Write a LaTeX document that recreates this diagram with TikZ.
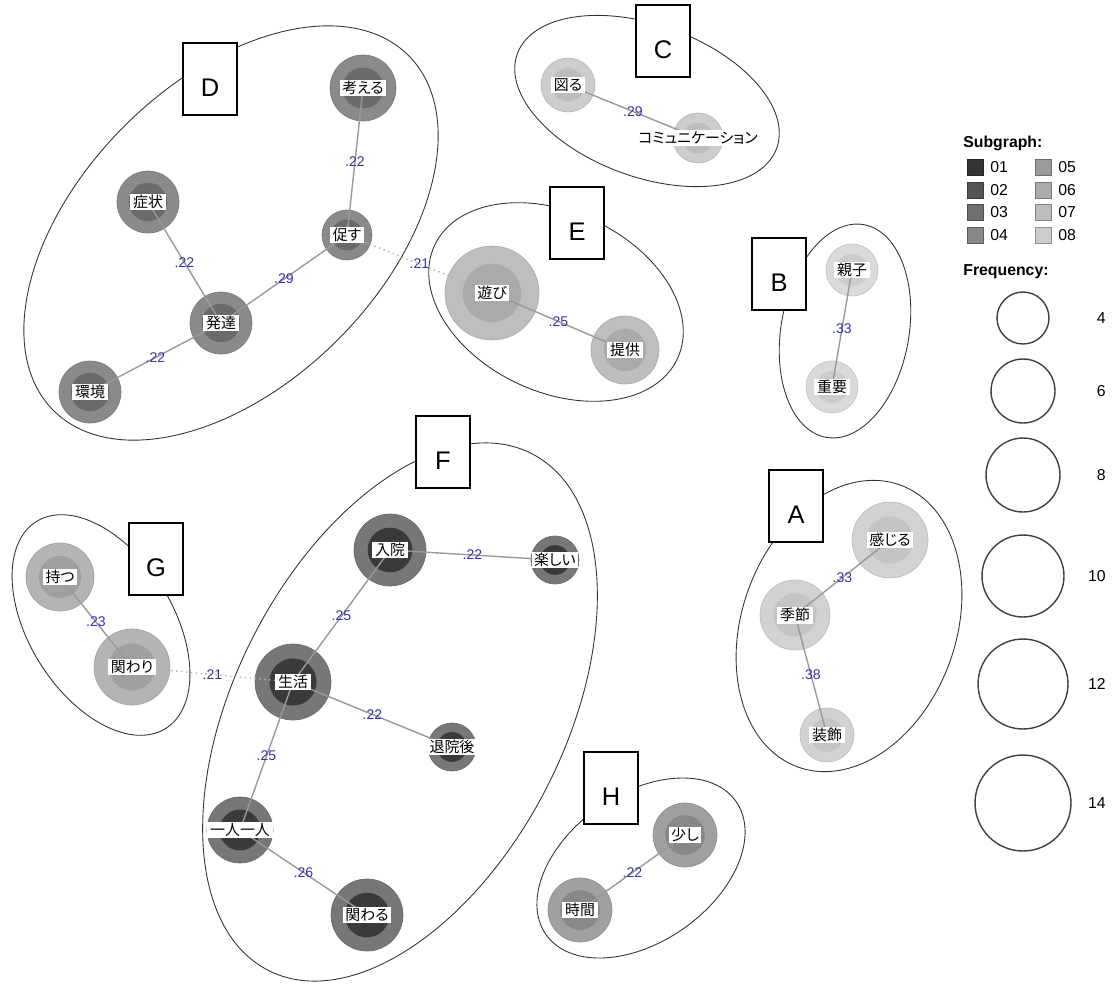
\documentclass[tikz,border=0pt]{standalone}
\usepackage{fontspec}
\setmainfont{Liberation Sans}
\newfontfamily\jp{Noto Sans CJK JP}[RawFeature=+palt]

% ring / core shades of the subgraphs
\definecolor{ringA}{HTML}{D2D2D2}\definecolor{coreA}{HTML}{C4C4C4}
\definecolor{ringB}{HTML}{DADADA}\definecolor{coreB}{HTML}{CCCCCC}
\definecolor{ringC}{HTML}{CDCDCD}\definecolor{coreC}{HTML}{BDBDBD}
\definecolor{ringD}{HTML}{8A8A8A}\definecolor{coreD}{HTML}{6A6A6A}
\definecolor{ringE}{HTML}{BEBEBE}\definecolor{coreE}{HTML}{AAAAAA}
\definecolor{ringF}{HTML}{777777}\definecolor{coreF}{HTML}{3A3A3A}
\definecolor{ringG}{HTML}{B4B4B4}\definecolor{coreG}{HTML}{A0A0A0}
\definecolor{ringH}{HTML}{A0A0A0}\definecolor{coreH}{HTML}{888888}
% legend swatches
\definecolor{sg1}{HTML}{333333}\definecolor{sg2}{HTML}{555555}
\definecolor{sg3}{HTML}{707070}\definecolor{sg4}{HTML}{878787}
\definecolor{sg5}{HTML}{9A9A9A}\definecolor{sg6}{HTML}{ABABAB}
\definecolor{sg7}{HTML}{BDBDBD}\definecolor{sg8}{HTML}{CCCCCC}
\definecolor{coefblue}{RGB}{51,51,170}

\tikzset{
  word/.style n args={3}{circle, inner sep=0pt, minimum size={#1*0.04cm},
    fill=#2, draw=#2!90!black, line width=0.4pt,
    path picture={\fill[#3] (path picture bounding box.center) circle[radius={#1*0.0124cm}];}},
  sgA/.style={word={#1}{ringA}{coreA}},
  sgB/.style={word={#1}{ringB}{coreB}},
  sgC/.style={word={#1}{ringC}{coreC}},
  sgD/.style={word={#1}{ringD}{coreD}},
  sgE/.style={word={#1}{ringE}{coreE}},
  sgF/.style={word={#1}{ringF}{coreF}},
  sgG/.style={word={#1}{ringG}{coreG}},
  sgH/.style={word={#1}{ringH}{coreH}},
  tag/.style={fill=white, inner xsep=1.5pt, inner ysep=0.9pt, font=\jp\fontsize{8.5}{9.5}\selectfont},
  link/.style={draw=black!40, line width=0.8pt},
  weak/.style={draw=black!30, dotted, line width=0.8pt},
  coef/.style={text=coefblue, inner sep=0pt, font=\fontsize{8}{9}\selectfont},
  hull/.style={draw=black!80, line width=0.5pt},
  grp/.style={draw, fill=white, line width=1.1pt, inner sep=0pt,
    minimum width=1.08cm, minimum height=1.44cm, text height=20pt, text depth=0pt,
    font=\fontsize{14.5}{16}\selectfont},
  swatch/.style={draw=#1!70!black, fill=#1, minimum size=0.32cm, inner sep=0pt},
  sizekey/.style={circle, draw=black!75, line width=0.8pt, minimum size={#1*0.04cm}, inner sep=0pt},
  keytext/.style={inner sep=0pt, font=\fontsize{9}{10}\selectfont},
}

\begin{document}
\begin{tikzpicture}[x=0.02cm, y=-0.02cm]
  \useasboundingbox (0,0) rectangle (1116,984);

  % subgraph hulls
  \draw[hull, rotate around={45:(231,233)}] (231,233) ellipse [x radius=251, y radius=151];
  \draw[hull, rotate around={-20:(647,101)}] (647,101) ellipse [x radius=138, y radius=76];
  \draw[hull, rotate around={-25:(556,302)}] (556,302) ellipse [x radius=134, y radius=90];
  \draw[hull, rotate around={80:(845,331)}] (845,331) ellipse [x radius=108, y radius=64];
  \draw[hull, rotate around={70:(849,626)}] (849,626) ellipse [x radius=150, y radius=107];
  \draw[hull, rotate around={-58:(101,625)}] (101,625) ellipse [x radius=122, y radius=72];
  \draw[hull, rotate around={63:(400,712)}] (400,712) ellipse [x radius=290, y radius=165];
  \draw[hull, rotate around={35:(641,868)}] (641,868) ellipse [x radius=116, y radius=74];

  % group letters
  \node[grp] (grpD) at (210,79) {D};
  \node[grp] (grpC) at (663,41) {C};
  \node[grp] (grpE) at (577,223) {E};
  \node[grp] (grpB) at (779,274) {B};
  \node[grp] (grpA) at (796,506) {A};
  \node[grp] (grpG) at (156,559) {G};
  \node[grp] (grpF) at (443,452) {F};
  \node[grp] (grpH) at (611,788) {H};

  % word circles
  \node[sgD=33] (kangaeru) at (363,88) {};
  \node[sgD=31] (shojo) at (148,202) {};
  \node[sgD=25] (unagasu) at (347,235) {};
  \node[sgD=31] (hattatsu) at (221,323) {};
  \node[sgD=31] (kankyo) at (90,392) {};
  \node[sgE=47] (asobi) at (492,293) {};
  \node[sgE=34] (teikyo) at (625,350) {};
  \node[sgC=27] (hakaru) at (568,85) {};
  \node[sgC=25] (komyu) at (698,138) {};
  \node[sgB=26] (oyako) at (852,270) {};
  \node[sgB=26] (juyo) at (832,387) {};
  \node[sgA=38] (kanjiru) at (890,540) {};
  \node[sgA=35] (kisetsu) at (795,615) {};
  \node[sgA=27] (soshoku) at (827,735) {};
  \node[sgG=34] (motsu) at (60,577) {};
  \node[sgG=38] (kakawari) at (132,667) {};
  \node[sgF=36] (nyuin) at (390,550) {};
  \node[sgF=24] (tanoshii) at (555,560) {};
  \node[sgF=38] (seikatsu) at (293,682) {};
  \node[sgF=24] (taiingo) at (452,747) {};
  \node[sgF=33] (hitori) at (240,830) {};
  \node[sgF=36] (kakawaru) at (367,915) {};
  \node[sgH=32] (sukoshi) at (685,835) {};
  \node[sgH=32] (jikan) at (580,910) {};

  % co-occurrence links
  \draw[link] (kangaeru.center) -- (unagasu.center) node[coef, midway] {.22};
  \draw[link] (shojo.center) -- (hattatsu.center) node[coef, midway] {.22};
  \draw[link] (hattatsu.center) -- (unagasu.center) node[coef, midway] {.29};
  \draw[link] (kankyo.center) -- (hattatsu.center) node[coef, midway] {.22};
  \draw[weak] (unagasu.center) -- (asobi.center) node[coef, midway] {.21};
  \draw[link] (asobi.center) -- (teikyo.center) node[coef, midway] {.25};
  \draw[link] (hakaru.center) -- (komyu.center) node[coef, midway] {.29};
  \draw[link] (oyako.center) -- (juyo.center) node[coef, midway] {.33};
  \draw[link] (kanjiru.center) -- (kisetsu.center) node[coef, midway] {.33};
  \draw[link] (kisetsu.center) -- (soshoku.center) node[coef, midway] {.38};
  \draw[link] (motsu.center) -- (kakawari.center) node[coef, midway] {.23};
  \draw[weak] (kakawari.center) -- (seikatsu.center) node[coef, midway] {.21};
  \draw[link] (nyuin.center) -- (tanoshii.center) node[coef, midway] {.22};
  \draw[link] (nyuin.center) -- (seikatsu.center) node[coef, midway] {.25};
  \draw[link] (seikatsu.center) -- (taiingo.center) node[coef, midway] {.22};
  \draw[link] (seikatsu.center) -- (hitori.center) node[coef, midway] {.25};
  \draw[link] (hitori.center) -- (kakawaru.center) node[coef, midway] {.26};
  \draw[link] (sukoshi.center) -- (jikan.center) node[coef, midway] {.22};

  % word labels
  \node[tag] (kangaeru-t) at (kangaeru) {考える};
  \node[tag] (shojo-t) at (shojo) {症状};
  \node[tag] (unagasu-t) at (unagasu) {促す};
  \node[tag] (hattatsu-t) at (hattatsu) {発達};
  \node[tag] (kankyo-t) at (kankyo) {環境};
  \node[tag] (asobi-t) at (asobi) {遊び};
  \node[tag] (teikyo-t) at (teikyo) {提供};
  \node[tag] (hakaru-t) at (hakaru) {図る};
  \node[tag] (komyu-t) at (komyu) {コミュニケーション};
  \node[tag] (oyako-t) at (oyako) {親子};
  \node[tag] (juyo-t) at (juyo) {重要};
  \node[tag] (kanjiru-t) at (kanjiru) {感じる};
  \node[tag] (kisetsu-t) at (kisetsu) {季節};
  \node[tag] (soshoku-t) at (soshoku) {装飾};
  \node[tag] (motsu-t) at (motsu) {持つ};
  \node[tag] (kakawari-t) at (kakawari) {関わり};
  \node[tag] (nyuin-t) at (nyuin) {入院};
  \node[tag] (tanoshii-t) at (tanoshii) {楽しい};
  \node[tag] (seikatsu-t) at (seikatsu) {生活};
  \node[tag] (taiingo-t) at (taiingo) {退院後};
  \node[tag] (hitori-t) at (hitori) {一人一人};
  \node[tag] (kakawaru-t) at (kakawaru) {関わる};
  \node[tag] (sukoshi-t) at (sukoshi) {少し};
  \node[tag] (jikan-t) at (jikan) {時間};

  % legend: subgraph shades
  \node[keytext, anchor=west, font=\bfseries\fontsize{9}{10}\selectfont] (sghead) at (963,143) {Subgraph:};
  \node[swatch=sg1] (sw1) at (975,167) {};
  \node[swatch=sg2] (sw2) at (975,190) {};
  \node[swatch=sg3] (sw3) at (975,212) {};
  \node[swatch=sg4] (sw4) at (975,235) {};
  \node[swatch=sg5] (sw5) at (1043,167) {};
  \node[swatch=sg6] (sw6) at (1043,190) {};
  \node[swatch=sg7] (sw7) at (1043,212) {};
  \node[swatch=sg8] (sw8) at (1043,235) {};
  \node[keytext, anchor=west] (sw1-t) at (990,167) {01};
  \node[keytext, anchor=west] (sw2-t) at (990,190) {02};
  \node[keytext, anchor=west] (sw3-t) at (990,212) {03};
  \node[keytext, anchor=west] (sw4-t) at (990,235) {04};
  \node[keytext, anchor=west] (sw5-t) at (1058,167) {05};
  \node[keytext, anchor=west] (sw6-t) at (1058,190) {06};
  \node[keytext, anchor=west] (sw7-t) at (1058,212) {07};
  \node[keytext, anchor=west] (sw8-t) at (1058,235) {08};

  % legend: frequency sizes
  \node[keytext, anchor=west, font=\bfseries\fontsize{9}{10}\selectfont] (fqhead) at (963,272) {Frequency:};
  \node[sizekey=26] (fq4) at (1023,318) {};
  \node[sizekey=32] (fq6) at (1023,391) {};
  \node[sizekey=37] (fq8) at (1023,475) {};
  \node[sizekey=41] (fq10) at (1023,576) {};
  \node[sizekey=45] (fq12) at (1023,684) {};
  \node[sizekey=48] (fq14) at (1023,803) {};
  \node[keytext, anchor=east] (fq4-t) at (1106,318) {4};
  \node[keytext, anchor=east] (fq6-t) at (1106,391) {6};
  \node[keytext, anchor=east] (fq8-t) at (1106,475) {8};
  \node[keytext, anchor=east] (fq10-t) at (1106,576) {10};
  \node[keytext, anchor=east] (fq12-t) at (1106,684) {12};
  \node[keytext, anchor=east] (fq14-t) at (1106,803) {14};
\end{tikzpicture}
\end{document}
